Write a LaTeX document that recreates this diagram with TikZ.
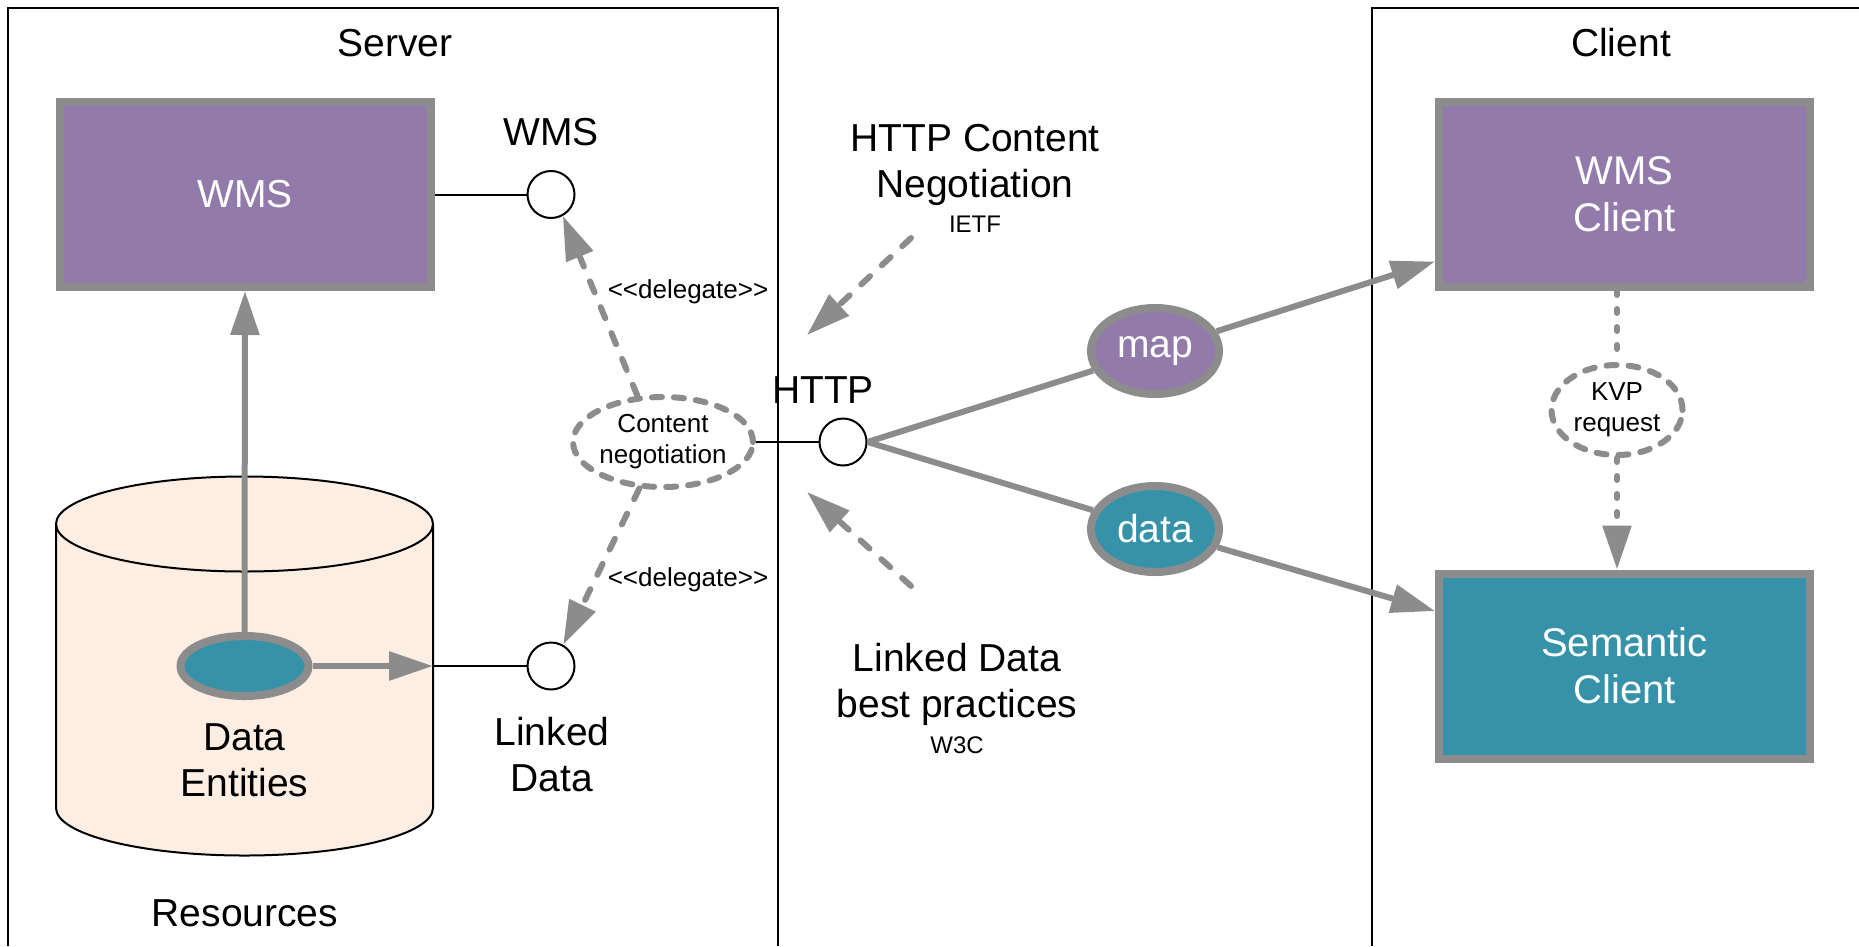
\documentclass[tikz,border=0pt]{standalone}
\usepackage{fontspec}
\setmainfont{Liberation Sans}
\usetikzlibrary{arrows.meta,shapes.geometric,calc}
\definecolor{wmspurple}{HTML}{927BAB}
\definecolor{semteal}{HTML}{3692A9}
\definecolor{bordergray}{HTML}{8C8C8C}
\definecolor{cylfill}{HTML}{FDEEE3}
\newcommand{\fsbig}{\fontsize{39}{46}\selectfont}
\newcommand{\fssmall}{\fontsize{24}{29}\selectfont}
\newcommand{\fsmid}{\fontsize{26}{31}\selectfont}
\begin{document}
\begin{tikzpicture}[x=1pt,y=-1pt,
  frame/.style={draw=black,line width=2pt},
  comp/.style={draw=bordergray,line width=8pt,minimum width=371pt,minimum height=185pt,inner sep=0pt,align=center,text=white,font=\fsbig},
  iface/.style={circle,draw=black,fill=white,line width=2pt,minimum size=47pt,inner sep=0pt},
  lbl/.style={inner sep=0pt,align=center,font=\fsbig},
  smalllbl/.style={inner sep=0pt,align=center,font=\fssmall},
  flowell/.style={ellipse,draw=bordergray,line width=8pt,minimum width=128pt,minimum height=86pt,inner sep=0pt,text=white,font=\fsbig},
  dashell/.style={ellipse,draw=bordergray,line width=6pt,dash pattern=on 10pt off 12pt,line cap=round,inner sep=0pt,align=center,font=\fsmid},
  thinline/.style={draw=black,line width=2pt},
  conn/.style={draw=bordergray,line width=6pt},
  tip/.style={-{Triangle[length=44pt,width=28pt]}},
  dconn/.style={draw=bordergray,line width=6pt,dash pattern=on 12pt off 16pt,line cap=round},
  dotconn/.style={draw=bordergray,line width=6pt,dash pattern=on 4pt off 14pt,line cap=round}
]
\useasboundingbox (0,0) rectangle (1859,946);
\fill[white] (0,0) rectangle (1859,946);

% frames
\draw[frame] (8,946) -- (8,8) -- (778,8) -- (778,946);
\draw[frame] (1372,946) -- (1372,8) -- (1859,8);
\node[lbl] (serverlbl) at (395,43) {Server};
\node[lbl] (clientlbl) at (1621,43) {Client};

% cylinder (Resources)
\fill[cylfill] (56,524) -- (56,808) arc[start angle=180,end angle=0,x radius=188.5,y radius=47.5]
  -- (433,524) arc[start angle=0,end angle=-180,x radius=188.5,y radius=47.5] -- cycle;
\draw[line width=2pt] (56,524) -- (56,808) arc[start angle=180,end angle=0,x radius=188.5,y radius=47.5] -- (433,524);
\draw[line width=2pt] (244.5,524) ellipse[x radius=188.5,y radius=47.5];
\node[lbl] (reslbl) at (245,913) {Resources};

% server components
\node[comp,fill=wmspurple] (wms) at (245,194.5) {WMS};
\node[iface] (wmsc) at (551,194.5) {};
\node[lbl] (wmslbl) at (551,132) {WMS};
\node[ellipse,draw=bordergray,fill=semteal,line width=8pt,minimum width=128pt,minimum height=60pt,inner sep=0pt] (de) at (244.5,666) {};
\node[lbl] (delbl) at (244.5,760) {Data\\Entities};
\node[iface] (ldc) at (551,666) {};
\node[lbl] (ldlbl) at (552,755) {Linked\\Data};
\node[dashell,minimum width=172pt,minimum height=90pt] (cn) at (663,442) {Content\\negotiation};
\node[iface] (httpc) at (843,442) {};
\node[lbl] (httplbl) at (823,390) {HTTP};

\draw[thinline] (wms.east) -- (wmsc.west);
\coordinate (cylR) at (433,666);
\draw[conn,tip] (de.east) -- (cylR);
\draw[thinline] (cylR) -- (ldc.west);
\draw[conn,tip] (de.north) -- (wms.south);
\draw[thinline] (cn.east) -- (httpc.west);
\draw[dconn,tip] (cn.119) -- (wmsc.299);
\draw[dconn,tip] (cn.243) -- (ldc.60);
\node[smalllbl,font=\fsmid] (del1) at (688,292) {<\kern0pt<delegate>\kern0pt>};
\node[smalllbl,font=\fsmid] (del2) at (688,580) {<\kern0pt<delegate>\kern0pt>};

% standards labels
\node[lbl] (hcn) at (975,165) {HTTP Content\\Negotiation};
\node[smalllbl] (ietf) at (975,224) {IETF};
\coordinate (ietfs) at (911,238);
\coordinate (ietft) at (807,335);
\draw[dconn,tip] (ietfs) -- (ietft);
\node[lbl] (ldbp) at (957,684) {Linked Data\\best practices};
\node[smalllbl] (w3c) at (957,745) {W3C};
\coordinate (w3cs) at (911,586);
\coordinate (w3ct) at (807,492);
\draw[dconn,tip] (w3cs) -- (w3ct);

% clients
\node[comp,fill=wmspurple,font=\fontsize{40}{47}\selectfont] (wmscl) at (1624.5,194.5) {WMS\\Client};
\node[comp,fill=semteal,font=\fontsize{40}{47}\selectfont] (sem) at (1624.5,666) {Semantic\\Client};
\node[dashell,minimum width=131pt,minimum height=90pt,font=\fontsize{26}{31}\selectfont] (kvp) at (1617,410) {KVP\\request};
\draw[dotconn] (wmscl.south -| kvp) -- (kvp.north);
\draw[dotconn,tip] (kvp.south) -- (sem.north -| kvp);

% flows
\node[flowell,fill=wmspurple] (mapn) at (1155,351) {map};
\node[flowell,fill=semteal] (datan) at (1155,529) {data};
\draw[conn] (httpc.east) -- (mapn);
\draw[conn,tip] (mapn) -- ([yshift=-67pt]wmscl.west);
\draw[conn] (httpc.east) -- (datan);
\draw[conn,tip] (datan) -- ([yshift=55pt]sem.west);
\end{tikzpicture}
\end{document}
